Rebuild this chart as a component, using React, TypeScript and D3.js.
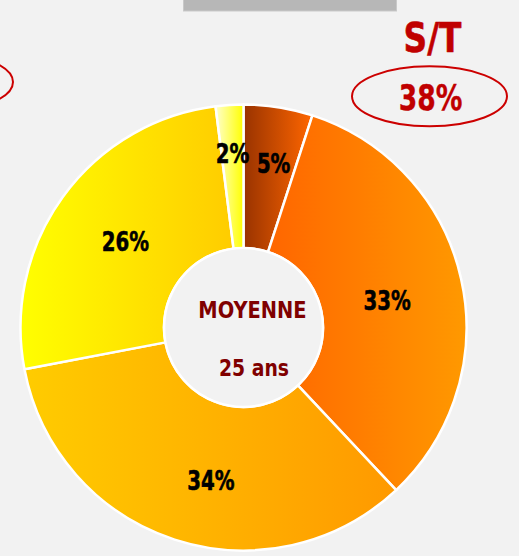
import React from 'react';
import * as d3 from 'd3';

// age bands share (percent), clockwise from 12 o'clock
const sliceNames = ['a', 'b', 'c', 'd', 'e'];
const sliceValues = [5, 33, 34, 26, 2];
const sliceLabels = ['5%', '33%', '34%', '26%', '2%'];
// horizontal gradient per slice: [left, right]
const sliceGradients = [
  ['#993300', '#FF6600'],
  ['#FF6600', '#FF9900'],
  ['#FFCC00', '#FF9900'],
  ['#FFFF00', '#FFCC00'],
  ['#FFFFCC', '#FFFF00'],
];
const centerTitle = 'MOYENNE';
const centerValue = '25 ans';
const sideTitle = 'S/T';
const sideValue = '38%';

const W = 519;
const H = 556;
const cx = 243.5;
const cy = 327.5;
const outerR = 223;
const innerR = 79.5;

// label placement tweaks (radius, angle nudge in degrees)
const labelRadius = [167, 146, 156, 146, 174];
const labelNudge = [1.4, 2.1, -5.9, 0, 0];

const FONT = "'DejaVu Sans', sans-serif";

const Squeezed = ({ x, y, sx, size, fill, weight = 0, children }) => (
  <text
    transform={`translate(${x},${y}) scale(${sx},1)`}
    textAnchor="middle"
    fontFamily={FONT}
    fontWeight="bold"
    fontSize={size}
    fill={fill}
    stroke={weight ? fill : 'none'}
    strokeWidth={weight}
    strokeLinejoin="round"
  >
    {children}
  </text>
);

const App = () => {
  const pie = d3.pie<number>().sort(null).value((d) => d).startAngle(0).endAngle(2 * Math.PI);
  const arcs = pie(sliceValues);
  const arc = d3.arc<d3.PieArcDatum<number>>().innerRadius(innerR).outerRadius(outerR);

  const labelSize = 26;

  return (
    <svg
      width={W}
      height={H}
      viewBox={`0 0 ${W} ${H}`}
      style={{ position: 'absolute', left: 0, top: 0, background: '#F2F2F2' }}
    >
      <defs>
        {sliceGradients.map((g, i) => (
          <linearGradient key={sliceNames[i]} id={`grad-${sliceNames[i]}`} x1="0" y1="0" x2="1" y2="0">
            <stop offset="0" stopColor={g[0]} />
            <stop offset="1" stopColor={g[1]} />
          </linearGradient>
        ))}
      </defs>
      <rect x={0} y={0} width={W} height={H} fill="#F2F2F2" />

      {/* grey title bar cut at the top */}
      <rect x={183.5} y={-2} width={213} height={13} fill="#B7B7B7" stroke="#C9C9C9" strokeWidth={1} />

      {/* left ellipse, mostly off canvas */}
      <ellipse cx={-65} cy={82} rx={78} ry={30} fill="none" stroke="#CC0000" strokeWidth={2} />

      {/* S/T block */}
      <Squeezed x={432.5} y={52} sx={0.82} size={40} fill="#C00000" weight={0.6}>{sideTitle}</Squeezed>
      <ellipse cx={429.5} cy={96.3} rx={77.5} ry={30} fill="none" stroke="#CC0000" strokeWidth={2} />
      <Squeezed x={430.5} y={110} sx={0.74} size={36} fill="#C00000" weight={0.4}>{sideValue}</Squeezed>

      <g transform={`translate(${cx},${cy})`}>
        {arcs.map((a, i) => (
          <path
            key={sliceNames[i]}
            d={arc(a) || ''}
            fill={`url(#grad-${sliceNames[i]})`}
            stroke="#FFFFFF"
            strokeWidth={2.5}
            strokeLinejoin="round"
          />
        ))}
        <circle r={innerR} fill="#F2F2F2" stroke="#FFFFFF" strokeWidth={2.5} />
        {arcs.map((a, i) => {
          const ang = (a.startAngle + a.endAngle) / 2 + (labelNudge[i] * Math.PI) / 180;
          const r = labelRadius[i];
          const x = r * Math.sin(ang);
          const y = -r * Math.cos(ang) + 0.729 * labelSize * 0.5;
          return (
            <Squeezed key={sliceNames[i]} x={x} y={y} sx={0.76} size={labelSize} fill="#000000" weight={0.6}>
              {sliceLabels[i]}
            </Squeezed>
          );
        })}
        <Squeezed x={9} y={-9.5} sx={0.845} size={23} fill="#800000">{centerTitle}</Squeezed>
        <Squeezed x={10.5} y={48.5} sx={0.8} size={23.5} fill="#800000">{centerValue}</Squeezed>
      </g>
    </svg>
  );
};

export default App;
